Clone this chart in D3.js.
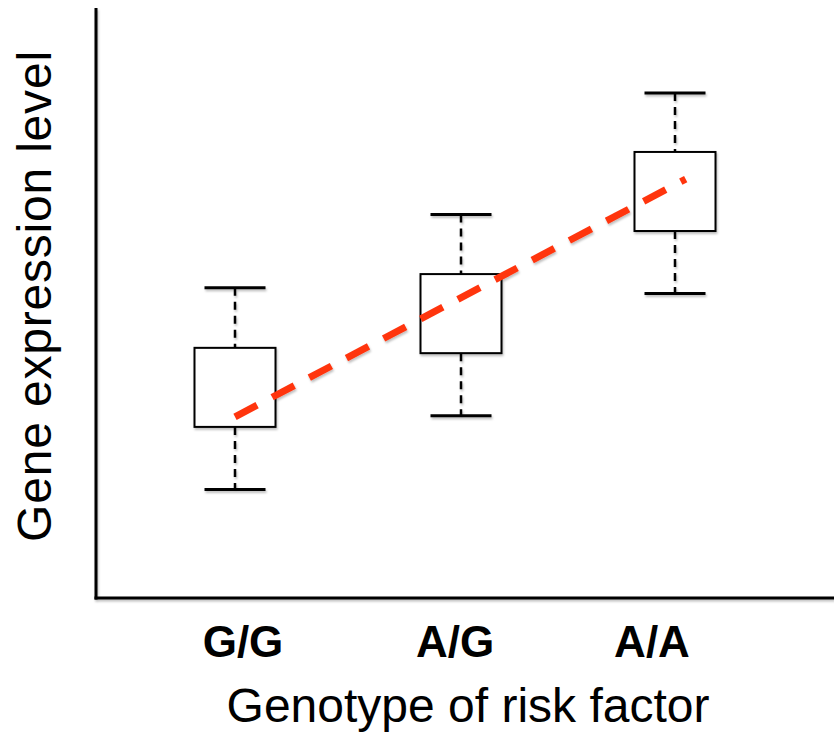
<!DOCTYPE html>
<html>
<head>
<meta charset="utf-8">
<script src="https://cdn.jsdelivr.net/npm/d3@7"></script>
<style>
  body { margin: 0; background: #fff; }
  text { font-family: "Liberation Sans", Arial, sans-serif; }
</style>
</head>
<body>
<div id="chart"></div>
<script>
// genotypes and box summaries (arbitrary expression units)
const genotypes = ["G/G", "A/G", "A/A"];
const whiskerLow = [1.84, 3.09, 5.16];
const q1 = [2.90, 4.15, 6.22];
const q3 = [4.24, 5.49, 7.56];
const whiskerHigh = [5.26, 6.50, 8.56];

// trend line endpoints (genotype index, expression)
const trendX = [0, 2.05];
const trendY = [3.07, 7.10];

const width = 834, height = 742;
const margin = {top: 8, right: 0, bottom: 144, left: 96};

const svg = d3.select("#chart").append("svg")
    .attr("width", width)
    .attr("height", height);

let defs = svg.append("defs");
defs.append("filter")
    .attr("id", "shadow")
    .attr("x", "-20%").attr("y", "-20%")
    .attr("width", "140%").attr("height", "140%")
  .append("feDropShadow")
    .attr("dx", 1).attr("dy", 2)
    .attr("stdDeviation", 1.2)
    .attr("flood-color", "#000")
    .attr("flood-opacity", 0.25);

let yScale = d3.scaleLinear().domain([0, 10]).range([height - margin.bottom, margin.top]);
// boxes are hand placed, slightly uneven spacing
let xScale = d3.scaleLinear().domain([0, 1, 2]).range([235, 461, 675]);
let labelScale = d3.scaleOrdinal().domain(genotypes).range([243, 455, 652]);

let data = genotypes.map((g, i) => ({
    g: g, i: i, lo: whiskerLow[i], q1: q1[i], q3: q3[i], hi: whiskerHigh[i]
}));

let plot = svg.append("g").attr("filter", "url(#shadow)");

// axes (no ticks)
plot.append("line")
    .attr("x1", margin.left).attr("x2", margin.left)
    .attr("y1", yScale(10)).attr("y2", yScale(0) + 1.5)
    .attr("stroke", "#000").attr("stroke-width", 3);
plot.append("line")
    .attr("x1", margin.left - 1.5).attr("x2", width)
    .attr("y1", yScale(0)).attr("y2", yScale(0))
    .attr("stroke", "#000").attr("stroke-width", 3);

let boxW = 81, capW = 61;
let boxes = plot.selectAll(".box")
    .data(data)
    .enter()
    .append("g")
    .attr("class", "box");

// dashed whiskers
boxes.append("line")
    .attr("x1", d => xScale(d.i)).attr("x2", d => xScale(d.i))
    .attr("y1", d => yScale(d.hi)).attr("y2", d => yScale(d.q3))
    .attr("stroke", "#000").attr("stroke-width", 2.5)
    .attr("stroke-dasharray", "8,6");
boxes.append("line")
    .attr("x1", d => xScale(d.i)).attr("x2", d => xScale(d.i))
    .attr("y1", d => yScale(d.q1)).attr("y2", d => yScale(d.lo))
    .attr("stroke", "#000").attr("stroke-width", 2.5)
    .attr("stroke-dasharray", "8,6");

// caps
boxes.append("line")
    .attr("x1", d => xScale(d.i) - capW / 2).attr("x2", d => xScale(d.i) + capW / 2)
    .attr("y1", d => yScale(d.hi)).attr("y2", d => yScale(d.hi))
    .attr("stroke", "#000").attr("stroke-width", 3);
boxes.append("line")
    .attr("x1", d => xScale(d.i) - capW / 2).attr("x2", d => xScale(d.i) + capW / 2)
    .attr("y1", d => yScale(d.lo)).attr("y2", d => yScale(d.lo))
    .attr("stroke", "#000").attr("stroke-width", 3);

// boxes
boxes.append("rect")
    .attr("x", d => xScale(d.i) - boxW / 2)
    .attr("y", d => yScale(d.q3))
    .attr("width", boxW)
    .attr("height", d => yScale(d.q1) - yScale(d.q3))
    .attr("fill", "#fff")
    .attr("stroke", "#000")
    .attr("stroke-width", 2);

// red dashed trend
plot.append("path")
    .datum(trendX.map((x, i) => [x, trendY[i]]))
    .attr("d", d3.line().x(d => xScale(d[0])).y(d => yScale(d[1])))
    .attr("fill", "none")
    .attr("stroke", "#ff3511")
    .attr("stroke-width", 7)
    .attr("stroke-dasharray", "25,17");

// category labels
svg.selectAll(".glabel")
    .data(genotypes)
    .enter()
    .append("text")
    .attr("class", "glabel")
    .attr("x", d => labelScale(d))
    .attr("y", 657)
    .attr("text-anchor", "middle")
    .style("font-weight", "bold")
    .style("font-size", "44px")
    .text(d => d);

// axis titles
svg.append("text")
    .attr("x", 468)
    .attr("y", 722)
    .attr("text-anchor", "middle")
    .style("font-size", "48px")
    .text("Genotype of risk factor");

svg.append("text")
    .attr("transform", "translate(51,296) rotate(-90)")
    .attr("text-anchor", "middle")
    .style("font-size", "48px")
    .style("letter-spacing", "0.8px")
    .text("Gene expression level");
</script>
</body>
</html>
